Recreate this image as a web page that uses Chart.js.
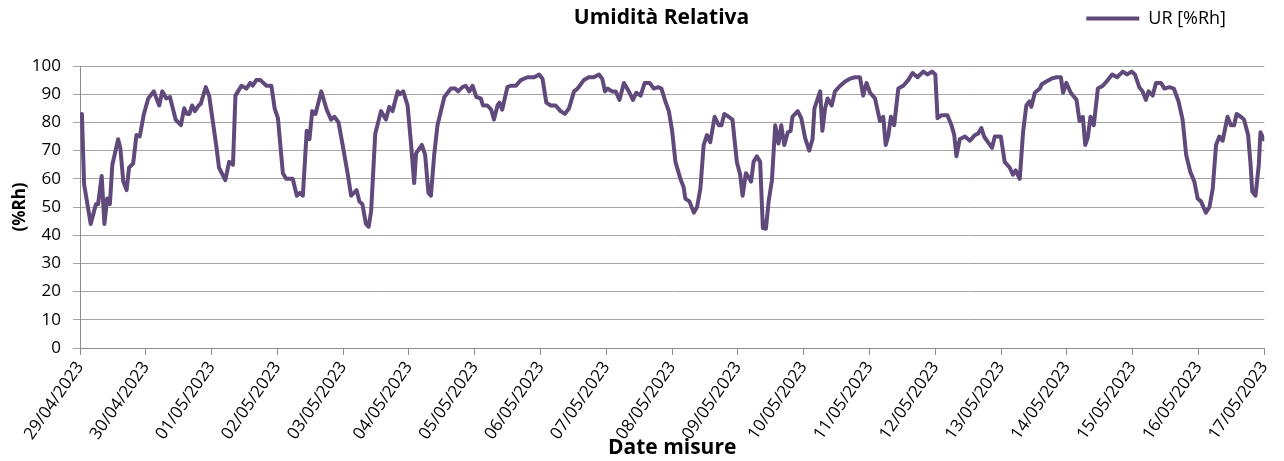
<!DOCTYPE html>
<html>
<head>
<meta charset="utf-8">
<script src="https://cdn.jsdelivr.net/npm/chart.js@4"></script>
<style>
  html, body { margin: 0; padding: 0; background: #fff; }
</style>
</head>
<body>
<canvas id="chart" width="1284" height="461"></canvas>
<script>
// day labels on the x axis, one per 24 h
const tickLabels = [
  '29/04/2023', '30/04/2023', '01/05/2023', '02/05/2023', '03/05/2023',
  '04/05/2023', '05/05/2023', '06/05/2023', '07/05/2023', '08/05/2023',
  '09/05/2023', '10/05/2023', '11/05/2023', '12/05/2023', '13/05/2023',
  '14/05/2023', '15/05/2023', '16/05/2023', '17/05/2023'
];

// hours since 29/04/2023 00:00
const hours = [
  0.7, 1.5, 3.9, 5.8, 6.6, 7.9, 8.9, 9.9, 10.9, 11.8,
  13.9, 14.7, 15.8, 17, 17.9, 19.4, 20.6, 21.8, 23.3, 24.9,
  26.9, 28.9, 30, 31.5, 32.8, 34.9, 36.8, 38, 39, 39.9,
  40.9, 41.9, 43.3, 44, 45.9, 47.1, 48.5, 49.8, 50.7, 53,
  54.4, 55.8, 56.7, 58.9, 60.7, 62.1, 63, 64.3, 65.8, 68,
  69.8, 71, 72.2, 74, 75.2, 77.6, 79.1, 80.2, 81.3, 82.7,
  83.7, 84.7, 85.9, 88, 90, 91.6, 92.8, 94.3, 95.8, 97.7,
  98.9, 100.9, 101.9, 103, 104.3, 105.3, 106.2, 107.7, 109.8, 111.6,
  112.8, 114, 115.9, 116.7, 117.9, 119.5, 120.7, 121.9, 122.6, 124.7,
  125.9, 127.1, 128, 129.2, 130.4, 132.9, 135.3, 136.9, 137.9, 139.5,
  140.7, 142, 143.2, 144.6, 146.2, 147, 148.6, 150, 151, 152.3,
  153, 154, 155.9, 157.1, 159, 160.8, 163.2, 165.7, 167.5, 168.7,
  170.1, 171.7, 173.5, 175.3, 176.9, 178.4, 180.2, 181.5, 183.8, 185.6,
  187.4, 189.3, 190.5, 191.5, 192.4, 194.1, 195.4, 196.8, 198.4, 200.2,
  201.7, 202.9, 204.5, 206, 207.8, 209.3, 210.9, 212.1, 213.5, 214.8,
  216, 217.2, 219, 220.2, 220.8, 222.3, 223.9, 225.1, 226.3, 227.5,
  228.7, 229.9, 231.5, 233, 234, 235, 236.6, 238, 239.6, 240.8,
  241.7, 242.9, 244.8, 245.7, 246.9, 248.1, 249.1, 250.2, 251.2, 252.4,
  253.6, 254.8, 255.8, 256.9, 258.2, 259.2, 259.9, 261.8, 263.1, 264.5,
  266, 267.2, 267.9, 270, 270.8, 271.8, 272.7, 274.2, 275.4, 277.3,
  279.1, 280.9, 282.7, 284.5, 285.7, 286.9, 288.2, 290, 291.8, 293,
  293.9, 294.8, 295.8, 297, 298.5, 300.3, 302.1, 303.7, 305.5, 307.6,
  309.1, 310.8, 312, 312.8, 314.2, 316.4, 317.9, 318.9, 319.7, 320.9,
  322.8, 324.6, 326.4, 327.6, 328.8, 329.8, 331.2, 332.7, 333.7, 335.9,
  337.3, 339.1, 340.3, 341.3, 342.8, 344, 345.2, 346.4, 347, 348.3,
  350.1, 350.8, 352.5, 354.3, 356.2, 357.8, 358.6, 359.8, 361.4, 363.5,
  364.6, 365.8, 366.7, 367.6, 368.6, 369.8, 371.3, 373.1, 374.9, 376.5,
  378.3, 380.4, 381.9, 383.6, 384.8, 386.4, 387.6, 388.8, 389.8, 391.3,
  392.5, 394.3, 395.6, 397.4, 399, 400.7, 402.2, 403.5, 405, 406.5,
  407.7, 408.9, 410.7, 412, 413.2, 414.4, 415.6, 416.8, 418.6, 419.8,
  421, 421.9, 423.4, 424.6, 426.1, 427, 427.6, 428.8, 430, 430.6, 431.8
];

// relative humidity, %Rh
const ur = [
  83, 58, 44, 51, 51, 61, 44, 53, 51, 65,
  74, 71, 59, 56, 64, 65.5, 75.5, 75, 83, 88.5,
  91, 86, 91, 88.5, 89, 81, 79, 85, 83, 83,
  86, 84, 86, 86.5, 92.5, 89.5, 80, 71, 64, 59.5,
  66, 65, 89.5, 93, 92, 94, 93, 95, 95, 93,
  93, 85, 81.5, 62, 60, 60, 54, 55, 54, 77,
  74, 84, 83, 91, 84.5, 81, 82, 80, 72, 61.5,
  54, 56, 52, 51, 44, 43, 48.5, 76, 84, 81,
  85.5, 84, 91, 90, 91, 86, 73, 58.5, 69, 72,
  68.5, 55, 54, 68.5, 79, 89, 92, 92, 91, 92.5,
  93, 91, 93, 89, 88.5, 86, 86, 84.5, 81, 86,
  87, 84.5, 92.5, 93, 93, 95, 96, 96, 97, 95.5,
  87, 86, 86, 84, 83, 85, 91, 92, 95, 96,
  96, 97, 95.5, 91, 92, 91, 91, 88, 94, 91,
  88, 90.5, 89.5, 94, 94, 92, 92.5, 92, 87.5, 84,
  77, 66, 60, 57, 53, 52, 48, 50, 56.5, 72,
  75.5, 73, 82, 79, 79, 83, 82, 81, 66, 61.5,
  54, 62, 59, 66, 68, 66, 42.5, 42.3, 52, 59.5,
  79, 72.5, 79, 72, 76.5, 77, 82, 84, 81.5, 74.5,
  70, 74, 85, 91, 77, 85, 88.5, 86, 91, 93,
  94.5, 95.5, 96, 96, 89.5, 94, 90.5, 88.5, 80.5, 82,
  72, 75, 82, 79, 92, 93, 95, 97.5, 96, 98,
  97, 98, 97, 81.5, 82.5, 82.5, 79, 75.5, 68, 74,
  75, 73.5, 75.5, 76, 78, 75, 73, 71, 75, 75,
  66, 64, 61.5, 63, 60, 76.5, 86, 87.5, 85.5, 90.5,
  92, 93.5, 94.5, 95.5, 96, 96, 90.5, 94, 90.5, 88,
  80.5, 82, 72, 74.5, 82, 79, 92, 93, 95, 97,
  96, 98, 97, 98, 97, 92.5, 91, 88, 91, 89.5,
  94, 94, 92, 92.5, 92, 87.5, 81, 68.5, 62.5, 59,
  53, 52, 48, 50, 56.5, 72, 75, 73.5, 82, 79,
  79, 83, 82, 81, 75.5, 65, 55.5, 54, 65, 76.5, 74
];

const lineColor = '#604A7B';
const gridColor = '#a6a6a6';
const axisColor = '#8c8c8c';

Chart.defaults.font.family = '"Open Sans", Lato, sans-serif';
Chart.defaults.color = '#000';

const ctx = document.getElementById('chart').getContext('2d');
new Chart(ctx, {
  type: 'line',
  data: {
    datasets: [{
      label: 'UR [%Rh]',
      data: hours.map((h, i) => ({ x: h, y: ur[i] })),
      borderColor: lineColor,
      backgroundColor: lineColor,
      borderWidth: 4,
      borderCapStyle: 'round',
      borderJoinStyle: 'round',
      pointRadius: 0,
      tension: 0
    }]
  },
  options: {
    responsive: false,
    animation: false,
    layout: { padding: { left: 0, right: 17, top: -31.5, bottom: 0 } },
    plugins: {
      // title and legend share one header row
      title: {
        display: true,
        text: 'Umidità Relativa',
        font: { size: 21, weight: 'bold' },
        padding: { top: 37, bottom: 35.3 },
        fullSize: false,
        stack: 'head',
        stackWeight: 0.982
      },
      legend: {
        position: 'top',
        align: 'end',
        stack: 'head',
        stackWeight: 0.018,
        labels: {
          usePointStyle: true,
          pointStyle: 'line',
          pointStyleWidth: 53,
          padding: 41,
          font: { size: 18 }
        }
      },
      tooltip: { enabled: false }
    },
    scales: {
      x: {
        type: 'linear',
        min: 0,
        max: 432,
        ticks: {
          stepSize: 24,
          autoSkip: false,
          minRotation: 55,
          maxRotation: 55,
          font: { size: 17 },
          callback: v => tickLabels[Math.round(v / 24)]
        },
        grid: { drawOnChartArea: false, color: axisColor, tickLength: 7 },
        border: { color: axisColor },
        title: {
          display: true,
          text: 'Date misure',
          font: { size: 21, weight: 'bold' },
          padding: 0
        },
        afterFit: s => { s.height = 113; }
      },
      y: {
        min: 0,
        max: 100,
        ticks: { stepSize: 10, padding: 12, font: { size: 17 } },
        grid: { color: gridColor, tickLength: 7 },
        border: { color: axisColor },
        title: {
          display: true,
          text: '(%Rh)',
          font: { size: 17, weight: 'bold' },
          padding: { top: 10, bottom: 0 }
        },
        afterFit: s => { s.width = 80; }
      }
    }
  }
});
</script>
</body>
</html>
